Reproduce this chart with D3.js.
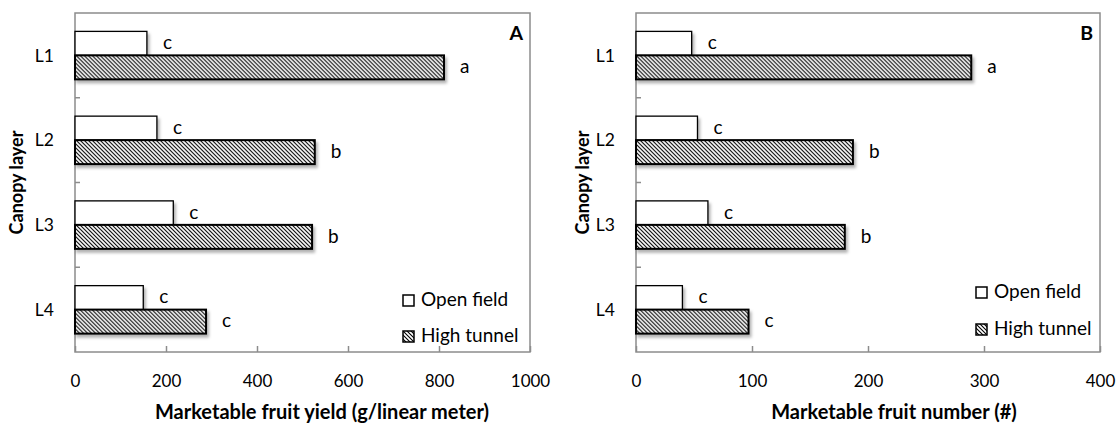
<!DOCTYPE html>
<html>
<head>
<meta charset="utf-8">
<script src="https://cdn.jsdelivr.net/npm/d3@7"></script>
<style>
  html, body { margin: 0; padding: 0; background: #fff; }
  svg { display: block; font-family: Lato, "Open Sans", sans-serif; }
</style>
</head>
<body>
<svg id="chart" width="1118" height="425"></svg>
<script>
// Canopy layers and treatments
const layers = ["L1", "L2", "L3", "L4"];
const treatments = ["Open field", "High tunnel"];

// Panel A: marketable fruit yield (g/linear meter)
const yieldOpen = [158, 180, 216, 150];
const yieldTunnel = [811, 527, 521, 288];
const yieldOpenSig = ["c", "c", "c", "c"];
const yieldTunnelSig = ["a", "b", "b", "c"];
const yieldTicks = [0, 200, 400, 600, 800, 1000];

// Panel B: marketable fruit number (#)
const countOpen = [48, 53, 62, 40];
const countTunnel = [289, 187, 180, 97];
const countOpenSig = ["c", "c", "c", "c"];
const countTunnelSig = ["a", "b", "b", "c"];
const countTicks = [0, 100, 200, 300, 400];

const svg = d3.select("#chart");
const defs = svg.append("defs");

// diagonal hatch fill for the high tunnel bars
const hatch = defs.append("pattern")
  .attr("id", "hatch")
  .attr("patternUnits", "userSpaceOnUse")
  .attr("width", 4).attr("height", 4);
hatch.append("rect").attr("width", 4).attr("height", 4).attr("fill", "#fff");
hatch.append("path")
  .attr("d", "M-1,-1 L5,5 M-1,3 L1,5 M3,-1 L5,1")
  .attr("stroke", "#000").attr("stroke-width", 1.1);

const shadow = defs.append("filter")
  .attr("id", "shadow")
  .attr("x", "-10%").attr("y", "-30%").attr("width", "130%").attr("height", "180%");
shadow.append("feDropShadow")
  .attr("dx", 2).attr("dy", 3).attr("stdDeviation", 1.5)
  .attr("flood-color", "#000").attr("flood-opacity", 0.3);

const panels = [
  { letter: "A", left: 75, right: 530, max: 1000, ticks: yieldTicks,
    open: yieldOpen, tunnel: yieldTunnel, openSig: yieldOpenSig, tunnelSig: yieldTunnelSig,
    title: "Marketable fruit yield (g/linear meter)", titleX: 322, yLabelX: 16.5,
    legendX: 403, legendBase: [306, 342] },
  { letter: "B", left: 636, right: 1100, max: 400, ticks: countTicks,
    open: countOpen, tunnel: countTunnel, openSig: countOpenSig, tunnelSig: countTunnelSig,
    title: "Marketable fruit number (#)", titleX: 894, yLabelX: 583,
    legendX: 976, legendBase: [298, 335] }
];

const plotTop = 13, plotBottom = 352;
const frameColor = "#8c8c8c";
const digitSize = 17, textSize = 19;

panels.forEach(p => {
  const g = svg.append("g");
  const x = d3.scaleLinear().domain([0, p.max]).range([p.left, p.right]);
  const y = d3.scaleBand().domain(layers).range([plotTop, plotBottom])
    .paddingInner(0.434).paddingOuter(0.217);
  const ySub = d3.scaleBand().domain(treatments).range([0, y.bandwidth()]);

  // plot frame
  g.append("rect")
    .attr("x", p.left).attr("y", plotTop)
    .attr("width", p.right - p.left).attr("height", plotBottom - plotTop)
    .attr("fill", "none").attr("stroke", frameColor).attr("stroke-width", 1.5);

  // x axis: inward ticks, labels below
  const xAxis = g.append("g").attr("transform", `translate(0,${plotBottom})`)
    .call(d3.axisBottom(x).tickValues(p.ticks).tickSize(-6).tickFormat(d3.format("d")));
  xAxis.select(".domain").remove();
  xAxis.selectAll(".tick line").attr("stroke", frameColor).attr("stroke-width", 1.5);
  xAxis.selectAll(".tick text")
    .attr("y", 35).attr("dy", 0)
    .attr("font-size", digitSize).attr("fill", "#000")
    .attr("font-family", "Lato, sans-serif");

  // y axis: boundary ticks between layers
  const step = y.step();
  const bounds = layers.slice(1).map(l => y(l) - y.paddingInner() * step / 2);
  g.selectAll(".ytick").data(bounds).join("line")
    .attr("class", "ytick")
    .attr("x1", p.left).attr("x2", p.left + 5)
    .attr("y1", d => d).attr("y2", d => d)
    .attr("stroke", frameColor).attr("stroke-width", 1.5);
  g.selectAll(".ylab").data(layers).join("text")
    .attr("class", "ylab")
    .attr("x", p.left - 21)
    .attr("y", d => y(d) + y.bandwidth() / 2)
    .attr("dy", "0.36em")
    .attr("text-anchor", "end")
    .attr("font-size", 17.5)
    .text(d => d);

  // bars
  const rows = layers.map((l, i) => ({
    layer: l,
    values: [
      { t: "Open field", v: p.open[i], sig: p.openSig[i] },
      { t: "High tunnel", v: p.tunnel[i], sig: p.tunnelSig[i] }
    ]
  }));
  const grp = g.selectAll(".layer").data(rows).join("g")
    .attr("class", "layer")
    .attr("transform", d => `translate(0,${y(d.layer)})`);
  grp.selectAll("rect").data(d => d.values).join("rect")
    .attr("x", x(0))
    .attr("y", d => ySub(d.t))
    .attr("width", d => x(d.v) - x(0))
    .attr("height", ySub.bandwidth())
    .attr("fill", d => d.t === "Open field" ? "#fff" : "url(#hatch)")
    .attr("stroke", "#000")
    .attr("stroke-width", d => d.t === "Open field" ? 1.3 : 2)
    .attr("filter", "url(#shadow)");
  grp.selectAll("text").data(d => d.values).join("text")
    .attr("x", d => x(d.v) + 16)
    .attr("y", d => ySub(d.t) + ySub.bandwidth() / 2)
    .attr("dy", "0.3em")
    .attr("font-size", textSize)
    .text(d => d.sig);

  // panel letter
  g.append("text")
    .attr("x", p.right - 7).attr("y", 40)
    .attr("text-anchor", "end")
    .attr("font-size", 19.5).attr("font-weight", "bold")
    .text(p.letter);

  // legend
  treatments.forEach((t, i) => {
    const base = p.legendBase[i];
    g.append("rect")
      .attr("x", p.legendX).attr("y", base - 11)
      .attr("width", 11).attr("height", 11)
      .attr("fill", i === 0 ? "#fff" : "url(#hatch)")
      .attr("stroke", "#000").attr("stroke-width", 1.5);
    g.append("text")
      .attr("x", p.legendX + 18).attr("y", base)
      .attr("font-size", textSize)
      .text(t);
  });

  // axis titles
  g.append("text")
    .attr("x", p.titleX).attr("y", 419)
    .attr("text-anchor", "middle")
    .attr("font-size", 20).attr("font-weight", "bold")
    .text(p.title);
  g.append("text")
    .attr("transform", `translate(${p.yLabelX},${(plotTop + plotBottom) / 2}) rotate(-90)`)
    .attr("dy", "0.36em")
    .attr("text-anchor", "middle")
    .attr("font-size", 18).attr("font-weight", "bold")
    .text("Canopy layer");
});
</script>
</body>
</html>
